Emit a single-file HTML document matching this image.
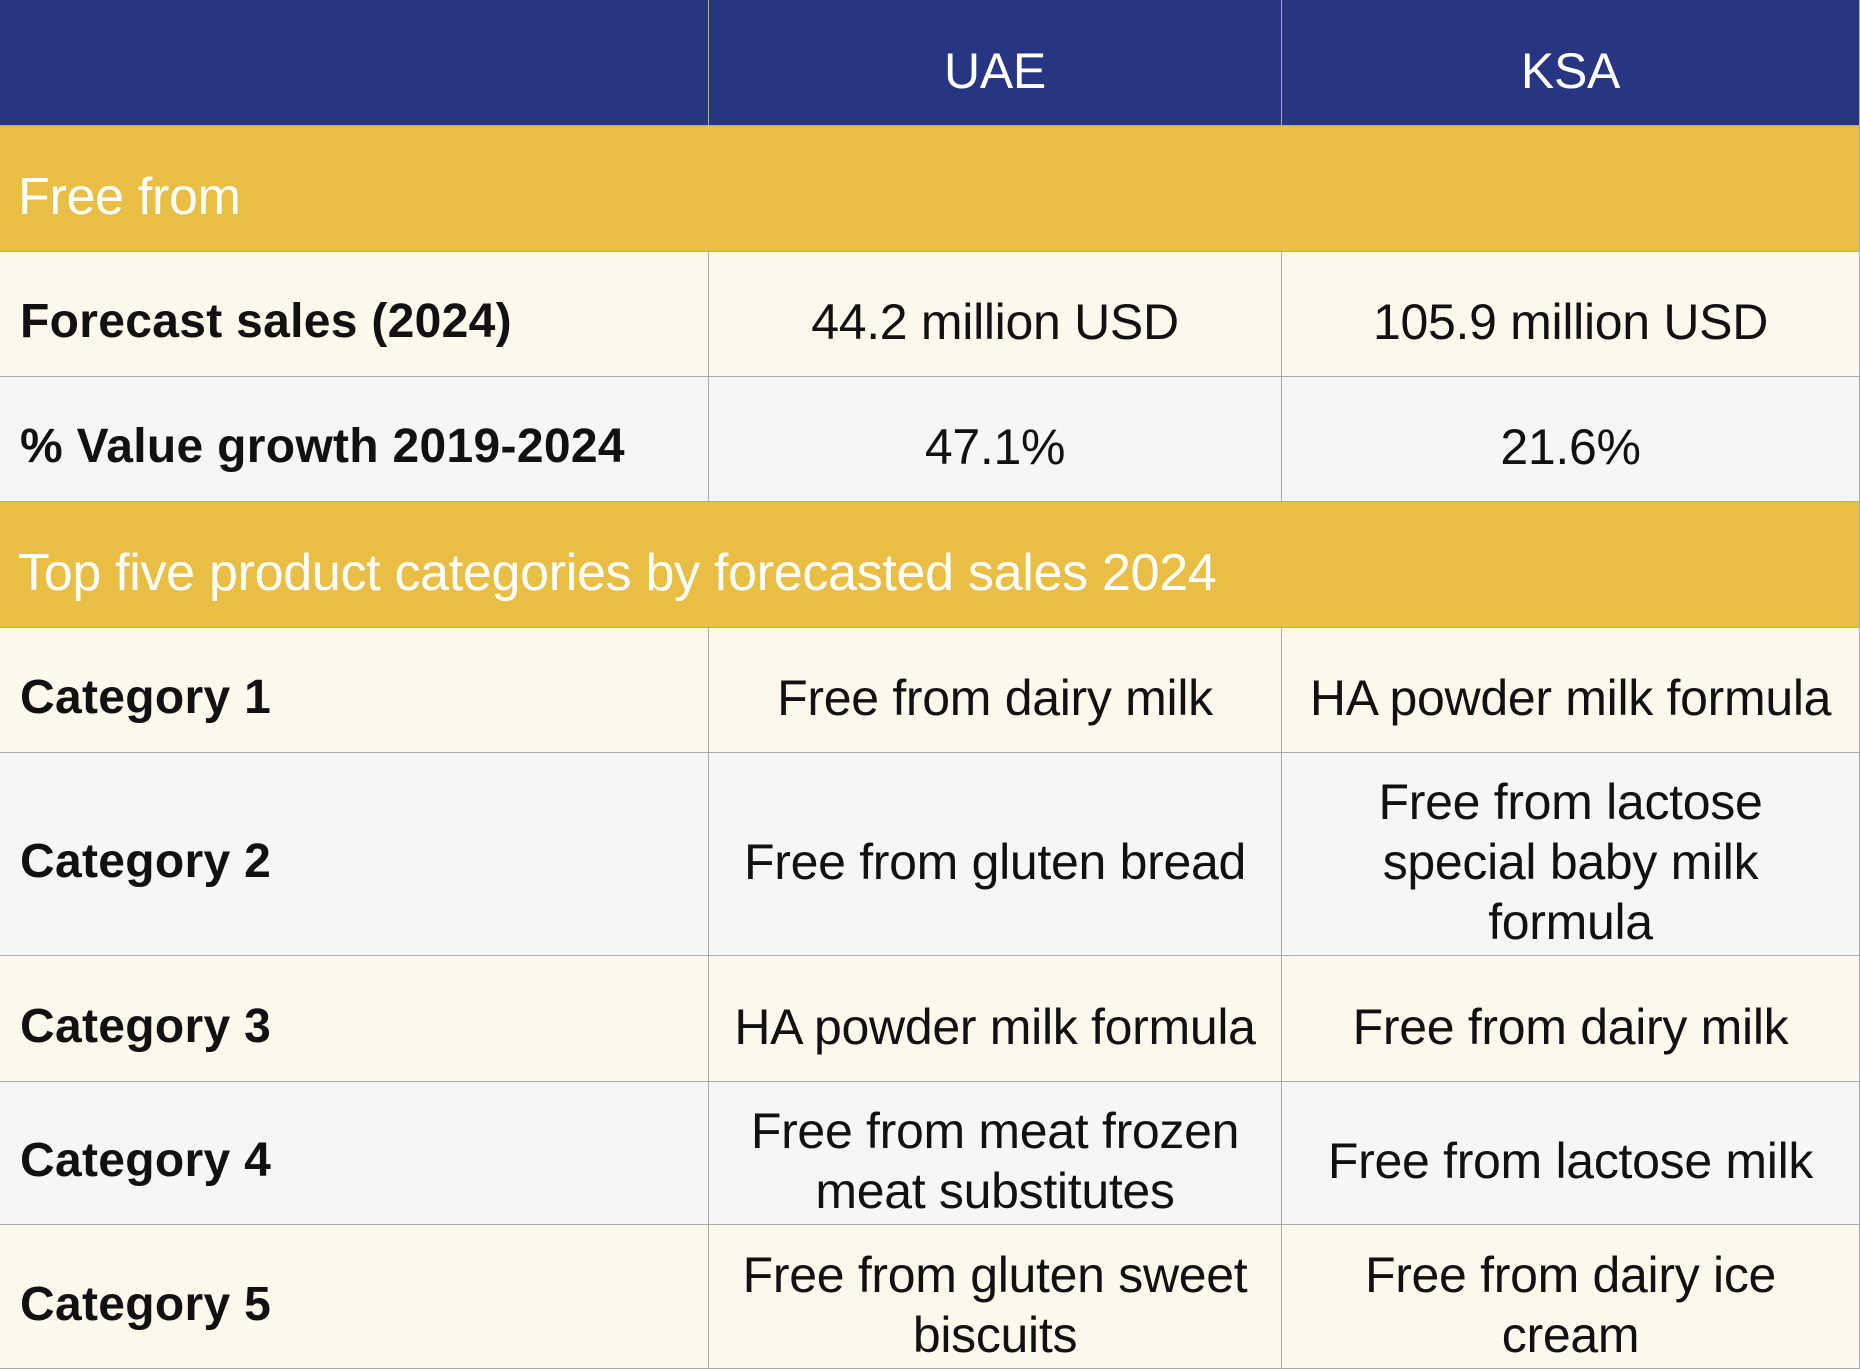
<!DOCTYPE html>
<html><head><meta charset="utf-8"><style>
html,body{margin:0;padding:0;}
body{width:1860px;height:1369px;overflow:hidden;background:#FCF8EC;font-family:"Liberation Sans",sans-serif;}
.c{position:absolute;box-sizing:border-box;display:flex;align-items:center;justify-content:center;text-align:center;font-size:50px;line-height:60px;color:#111;letter-spacing:-0.3px;border-right:1px solid #aaa;border-bottom:1px solid #aaa;padding:16px 8px 0 8px;}
.l{justify-content:flex-start;text-align:left;padding-left:20px;font-weight:bold;font-size:48px;letter-spacing:0.3px;}
.h{background:#283583;color:#fff;}
.g{background:#E9BE45;color:#fff;justify-content:flex-start;padding-left:18px;font-size:52px;}
.cr{background:#FCF8EC;}
.gr{background:#F5F6F8;}
</style></head><body>
<div class="c h" style="left:0;top:0;width:709px;height:126px"></div>
<div class="c h" style="left:709px;top:0;width:573px;height:126px">UAE</div>
<div class="c h" style="left:1282px;top:0;width:578px;height:126px">KSA</div>

<div class="c g" style="left:0;top:126px;width:1860px;height:126px">Free from</div>

<div class="c l cr" style="left:0;top:252px;width:709px;height:125px">Forecast sales (2024)</div>
<div class="c cr" style="left:709px;top:252px;width:573px;height:125px">44.2 million USD</div>
<div class="c cr" style="left:1282px;top:252px;width:578px;height:125px">105.9 million USD</div>

<div class="c l gr" style="left:0;top:377px;width:709px;height:125px">% Value growth 2019-2024</div>
<div class="c gr" style="left:709px;top:377px;width:573px;height:125px">47.1%</div>
<div class="c gr" style="left:1282px;top:377px;width:578px;height:125px">21.6%</div>

<div class="c g" style="left:0;top:502px;width:1860px;height:126px">Top five product categories by forecasted sales 2024</div>

<div class="c l cr" style="left:0;top:628px;width:709px;height:125px">Category 1</div>
<div class="c cr" style="left:709px;top:628px;width:573px;height:125px">Free from dairy milk</div>
<div class="c cr" style="left:1282px;top:628px;width:578px;height:125px">HA powder milk formula</div>

<div class="c l gr" style="left:0;top:753px;width:709px;height:203px">Category 2</div>
<div class="c gr" style="left:709px;top:753px;width:573px;height:203px">Free from gluten bread</div>
<div class="c gr" style="left:1282px;top:753px;width:578px;height:203px;padding:16px 50px 0 50px">Free from lactose special baby milk formula</div>

<div class="c l cr" style="left:0;top:956px;width:709px;height:126px">Category 3</div>
<div class="c cr" style="left:709px;top:956px;width:573px;height:126px">HA powder milk formula</div>
<div class="c cr" style="left:1282px;top:956px;width:578px;height:126px">Free from dairy milk</div>

<div class="c l gr" style="left:0;top:1082px;width:709px;height:143px">Category 4</div>
<div class="c gr" style="left:709px;top:1082px;width:573px;height:143px;padding:16px 30px 0 30px">Free from meat frozen meat substitutes</div>
<div class="c gr" style="left:1282px;top:1082px;width:578px;height:143px">Free from lactose milk</div>

<div class="c l cr" style="left:0;top:1225px;width:709px;height:144px">Category 5</div>
<div class="c cr" style="left:709px;top:1225px;width:573px;height:144px;padding:16px 20px 0 20px">Free from gluten sweet biscuits</div>
<div class="c cr" style="left:1282px;top:1225px;width:578px;height:144px;padding:16px 60px 0 60px">Free from dairy ice cream</div>
</body></html>
